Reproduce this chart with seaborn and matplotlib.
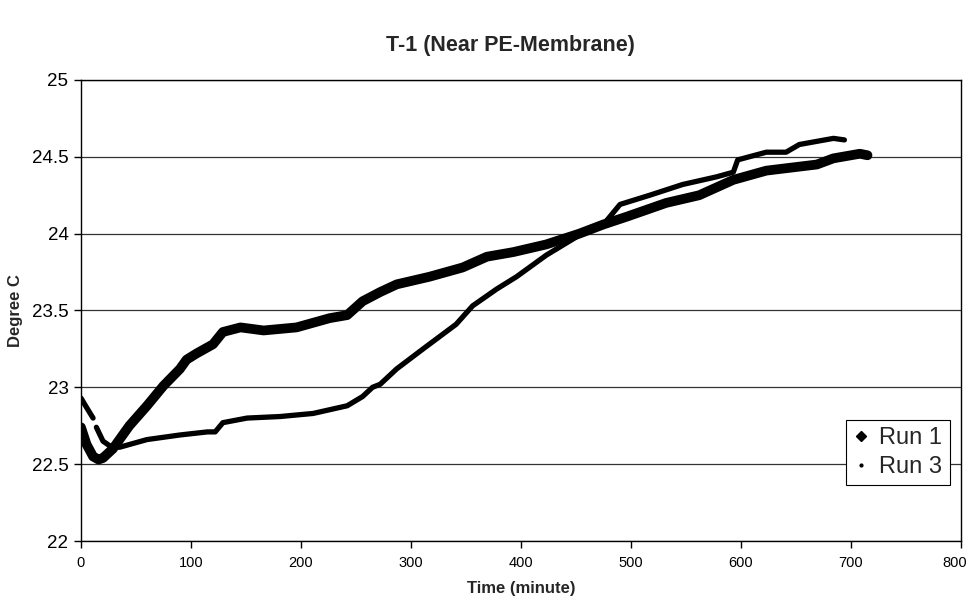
import matplotlib
matplotlib.use("Agg")
import matplotlib.pyplot as plt
from matplotlib.lines import Line2D
from matplotlib.transforms import ScaledTranslation
import seaborn as sns
import pandas as pd

# ---- data ----
run1_time = [0, 5, 11, 16, 20, 29, 44, 60, 75, 90, 96, 105, 120, 129, 145, 166, 196,
             226, 242, 256, 272, 287, 317, 347, 369, 393, 423, 453, 475, 496, 532,
             562, 593, 623, 669, 684, 708, 715]
run1_temp = [22.74, 22.63, 22.55, 22.53, 22.54, 22.60, 22.75, 22.88, 23.01, 23.12, 23.18,
             23.22, 23.28, 23.36, 23.39, 23.37, 23.39, 23.45, 23.47, 23.56, 23.62, 23.67,
             23.72, 23.78, 23.85, 23.88, 23.93, 24.00, 24.06, 24.11, 24.20, 24.25, 24.35,
             24.41, 24.45, 24.49, 24.52, 24.51]

# Run 3 has a small gap just after the start
run3a_time = [0, 5, 11]
run3a_temp = [22.93, 22.87, 22.80]
run3_time = [14, 20, 26, 35, 45, 60, 90, 115, 122, 129, 151, 181, 211, 242,
             256, 265, 272, 287, 311, 341, 356, 378, 396, 423, 453, 475, 490, 517, 547,
             578, 593, 597, 623, 641, 653, 684, 694]
run3_temp = [22.74, 22.65, 22.62, 22.61, 22.63, 22.66, 22.69, 22.71,
             22.71, 22.77, 22.80, 22.81, 22.83, 22.88, 22.94, 23.00, 23.02, 23.12, 23.25,
             23.41, 23.53, 23.64, 23.72, 23.86, 23.99, 24.06, 24.19, 24.25, 24.32, 24.37,
             24.40, 24.48, 24.53, 24.53, 24.58, 24.62, 24.61]

series_names = ["Run 1", "Run 3"]
x_ticks = [0, 100, 200, 300, 400, 500, 600, 700, 800]
y_ticks = [22, 22.5, 23, 23.5, 24, 24.5, 25]
y_tick_labels = ["22", "22.5", "23", "23.5", "24", "24.5", "25"]

title = "T-1 (Near PE-Membrane)"
x_label = "Time (minute)"
y_label = "Degree C"

# ---- figure ----
sns.set_theme(style="white")
plt.rcParams["font.family"] = ["Liberation Sans", "DejaVu Sans"]

fig = plt.figure(figsize=(9.72, 6.10), dpi=100)
ax = fig.add_axes([0.0833, 0.1131, 0.9054, 0.7558])

df1 = pd.DataFrame({"time": run1_time, "temp": run1_temp})
df3a = pd.DataFrame({"time": run3a_time, "temp": run3a_temp})
df3 = pd.DataFrame({"time": run3_time, "temp": run3_temp})

for d in (df3a, df3):
    sns.lineplot(data=d, x="time", y="temp", ax=ax, color="black", linewidth=3.8,
                 solid_capstyle="round", solid_joinstyle="round", zorder=3)
sns.lineplot(data=df1, x="time", y="temp", ax=ax, color="black", linewidth=7,
             solid_capstyle="round", solid_joinstyle="round", zorder=4)

ax.set_xlim(0, 800)
ax.set_ylim(22, 25)
ax.set_xticks(x_ticks)
ax.set_yticks(y_ticks)
ax.set_yticklabels(y_tick_labels)
ax.tick_params(axis="x", labelsize=10.5, length=5, width=1, direction="out",
               bottom=True, colors="black", pad=6)
ax.tick_params(axis="y", labelsize=13.5, length=5, width=1, direction="out",
               left=True, colors="black", pad=4)

# keep the last x label inside the figure
last = ax.get_xticklabels()[-1]
last.set_transform(last.get_transform() +
                   ScaledTranslation(-6 / 100, 0, fig.dpi_scale_trans))

ax.yaxis.grid(True, color="#333333", linewidth=0.9)
ax.xaxis.grid(False)
for s in ax.spines.values():
    s.set_color("black")
    s.set_linewidth(1.0)

ax.set_xlabel(x_label, fontsize=12, fontweight="bold", labelpad=8)
ax.set_ylabel(y_label, fontsize=12, fontweight="bold", labelpad=6)
fig.text(0.525, 0.925, title, ha="center", va="center", fontsize=15.5,
         fontweight="bold")

handles = [
    Line2D([], [], color="black", marker="D", markersize=5.5, linestyle="none"),
    Line2D([], [], color="black", marker=".", markersize=4, linestyle="none"),
]
leg = ax.legend(handles, series_names, loc="upper right",
                bbox_to_anchor=(0.987, 0.262), fontsize=17, frameon=True,
                fancybox=False, framealpha=1, edgecolor="black",
                handlelength=0.6, handletextpad=0.5, borderpad=0.3,
                labelspacing=0.3, borderaxespad=0)
leg.get_frame().set_linewidth(0.8)
leg.set_zorder(10)

fig.savefig("out.png", dpi=100)
